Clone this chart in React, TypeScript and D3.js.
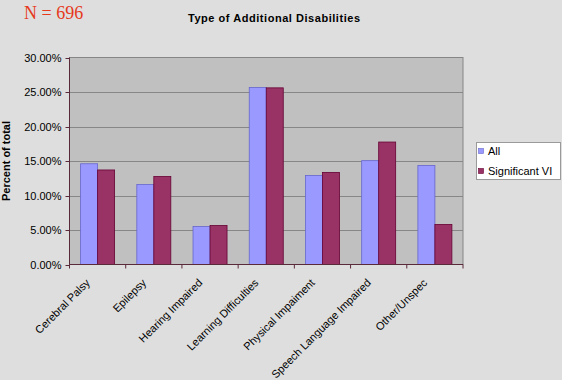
import React from "react";
import * as d3 from "d3";

const categories = [
  "Cerebral Palsy",
  "Epilepsy",
  "Hearing Impaired",
  "Learning Difficulties",
  "Physical Impaiment",
  "Speech Language Impaired",
  "Other/Unspec",
];
const allValues = [14.6, 11.6, 5.5, 25.65, 12.9, 15.05, 14.35];
const sigValues = [13.7, 12.75, 5.65, 25.6, 13.35, 17.75, 5.8];
const seriesNames = ["All", "Significant VI"];
const yTicks = [0, 5, 10, 15, 20, 25, 30];

const W = 562;
const H = 380;
const M = { left: 69.5, right: 463, top: 57.5, bottom: 264.5 };
const FONT = "'Liberation Sans', Arial, sans-serif";
const COLORS = ["#9999ff", "#993366"];
const STROKES = ["#6666cc", "#660033"];

export default function App() {
  const x = d3
    .scaleBand<string>()
    .domain(categories)
    .range([M.left, M.right])
    .paddingInner(0)
    .paddingOuter(0);
  const y = d3.scaleLinear().domain([0, 30]).range([M.bottom, M.top]);
  const bw = 17;
  const series = [allValues, sigValues];

  return (
    <svg
      width={W}
      height={H}
      style={{ position: "absolute", left: 0, top: 0, background: "#dedede" }}
    >
      <rect x={0} y={0} width={W} height={H} fill="#dedede" />
      <text
        x={24}
        y={19}
        fontFamily="'Liberation Serif', 'Times New Roman', serif"
        fontSize={18}
        fill="#e6391c"
      >
        N = 696
      </text>
      <text
        x={188}
        y={22}
        textLength={172}
        lengthAdjust="spacing"
        fontFamily={FONT}
        fontWeight="bold"
        fontSize={11}
        fill="#000"
      >
        Type of Additional Disabilities
      </text>
      {/* plot area */}
      <rect
        x={M.left}
        y={M.top}
        width={M.right - M.left}
        height={M.bottom - M.top}
        fill="#c0c0c0"
        stroke="#868686"
        strokeWidth={1}
      />
      {yTicks.map((t) => (
        <g key={t}>
          {t > 0 && t < 30 && (
            <line
              x1={M.left}
              x2={M.right}
              y1={Math.round(y(t)) + 0.5}
              y2={Math.round(y(t)) + 0.5}
              stroke="#878787"
              strokeWidth={1}
            />
          )}
          <line
            x1={M.left - 4}
            x2={M.left}
            y1={Math.round(y(t)) + 0.5}
            y2={Math.round(y(t)) + 0.5}
            stroke="#5a2a3a"
          />
          <text
            x={M.left - 8}
            y={Math.round(y(t)) + 4}
            textAnchor="end"
            fontFamily={FONT}
            fontSize={11}
            fill="#000"
          >
            {t.toFixed(2) + "%"}
          </text>
        </g>
      ))}
      {/* bars */}
      {categories.map((c, i) => {
        const cx = (x(c) as number) + x.bandwidth() / 2;
        return series.map((vals, s) => (
          <rect
            key={c + s}
            x={cx - bw + s * bw}
            y={y(vals[i])}
            width={bw}
            height={M.bottom - y(vals[i])}
            fill={COLORS[s]}
            stroke={STROKES[s]}
            strokeWidth={0.8}
          />
        ));
      })}
      {/* axes */}
      <line x1={M.left} x2={M.left} y1={M.top} y2={M.bottom} stroke="#5a2a3a" />
      <line x1={M.left} x2={M.right} y1={M.bottom} y2={M.bottom} stroke="#5a2a3a" />
      {categories.concat([""]).map((c, i) => {
        const xx = M.left + i * x.step();
        return (
          <line
            key={"t" + i}
            x1={xx}
            x2={xx}
            y1={M.bottom}
            y2={M.bottom + 4}
            stroke="#5a2a3a"
          />
        );
      })}
      {categories.map((c) => {
        const cx = (x(c) as number) + x.bandwidth() / 2;
        return (
          <text
            key={"l" + c}
            transform={`translate(${cx - 7},${M.bottom + 19}) rotate(-45)`}
            textAnchor="end"
            fontFamily={FONT}
            fontSize={11}
            fill="#000"
          >
            {c}
          </text>
        );
      })}
      <text
        transform={`translate(10,${(M.top + M.bottom) / 2}) rotate(-90)`}
        textAnchor="middle"
        fontFamily={FONT}
        fontWeight="bold"
        fontSize={11}
        fill="#000"
      >
        Percent of total
      </text>
      {/* legend */}
      <rect x={476.5} y={142.5} width={84} height={37} fill="#fff" stroke="#9a9a9a" />
      {seriesNames.map((n, i) => (
        <g key={n}>
          <rect
            x={478.5}
            y={148.5 + i * 20}
            width={5}
            height={5}
            fill={COLORS[i]}
            stroke={STROKES[i]}
            strokeWidth={0.6}
          />
          <text x={488} y={155 + i * 20} fontFamily={FONT} fontSize={11} fill="#000">
            {n}
          </text>
        </g>
      ))}
    </svg>
  );
}
